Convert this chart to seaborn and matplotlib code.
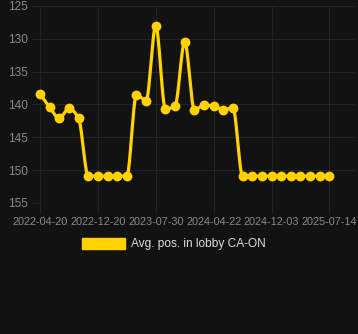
import numpy as np
import pandas as pd
import matplotlib
matplotlib.use("Agg")
import matplotlib.pyplot as plt
import seaborn as sns
from matplotlib.patches import Patch

# ---- data ----
tick_labels = ["2022-04-20", "2022-12-20", "2023-07-30", "2024-04-22", "2024-12-03", "2025-07-14"]
positions = [138.4, 140.4, 142.1, 140.6, 142.1,
             150.9, 150.9, 150.9, 150.9, 150.9,
             138.5, 139.4, 128.0, 140.7, 140.2,
             130.5, 140.8, 140.1, 140.2, 140.8, 140.5,
             150.9, 150.9, 150.9, 150.9, 150.9, 150.9, 150.9, 150.9, 150.9, 150.9]
series_name = "Avg. pos. in lobby CA-ON"

idx = np.arange(len(positions))
df = pd.DataFrame({"idx": idx, "pos": positions})

# monotone cubic (PCHIP) smoothing for the drawn line
def pchip(x, y, xs):
    x = np.asarray(x, float); y = np.asarray(y, float)
    h = np.diff(x); d = np.diff(y) / h
    n = len(x); m = np.zeros(n)
    for k in range(1, n - 1):
        if d[k - 1] * d[k] > 0:
            w1 = 2 * h[k] + h[k - 1]; w2 = h[k] + 2 * h[k - 1]
            m[k] = (w1 + w2) / (w1 / d[k - 1] + w2 / d[k])
    m[0] = d[0] if d[0] * d[min(1, n - 2)] > 0 else 0
    m[-1] = d[-1]
    i = np.clip(np.searchsorted(x, xs) - 1, 0, n - 2)
    t = (xs - x[i]) / h[i]
    h00 = 2 * t**3 - 3 * t**2 + 1; h10 = t**3 - 2 * t**2 + t
    h01 = -2 * t**3 + 3 * t**2; h11 = t**3 - t**2
    return h00 * y[i] + h10 * h[i] * m[i] + h01 * y[i + 1] + h11 * h[i] * m[i + 1]

xs = np.linspace(0, len(positions) - 1, 800)
smooth = pd.DataFrame({"idx": xs, "pos": pchip(idx, positions, xs)})

BG = "#121212"
GRID = "#232323"
YELLOW = "#FFD200"
TXT = "#8a8a8a"

sns.set_theme(style="dark")
plt.rcParams["font.family"] = ["Liberation Sans", "DejaVu Sans"]

fig = plt.figure(figsize=(3.58, 3.34), dpi=100, facecolor=BG)
ax = fig.add_axes([40 / 358, 1 - 203 / 334, 315 / 358, 197 / 334])
ax.set_facecolor(BG)

sns.lineplot(data=smooth, x="idx", y="pos", ax=ax, color=YELLOW, linewidth=2.3, legend=False)
sns.scatterplot(data=df, x="idx", y="pos", ax=ax, color=YELLOW, s=50, edgecolor=YELLOW,
                linewidth=0, zorder=5, legend=False, clip_on=False)

ax.set_xlim(0, 32.65)
ax.set_ylim(155, 125)
ax.set_yticks([125, 130, 135, 140, 145, 150, 155])
ax.set_xticks([0, 6, 12, 18, 24, 30])
ax.set_xticklabels(tick_labels)
ax.set_xlabel("")
ax.set_ylabel("")
ax.grid(True, color=GRID, linewidth=0.8)
ax.tick_params(axis="x", colors=GRID, labelcolor=TXT, labelsize=7.8, length=7, width=0.8, pad=3, bottom=True)
ax.tick_params(axis="y", colors=GRID, labelcolor=TXT, labelsize=8.6, length=6, width=0.8, pad=3, left=True)
for s in ax.spines.values():
    s.set_visible(False)

handle = Patch(facecolor=YELLOW, edgecolor=YELLOW)
fig.legend([handle], [series_name], loc="center", bbox_to_anchor=(174 / 358, 1 - 244 / 334),
           frameon=False, fontsize=8.6, labelcolor="#dddddd",
           handlelength=3.6, handleheight=1.1, handletextpad=0.5)

fig.savefig("out.png", dpi=100, facecolor=BG)
